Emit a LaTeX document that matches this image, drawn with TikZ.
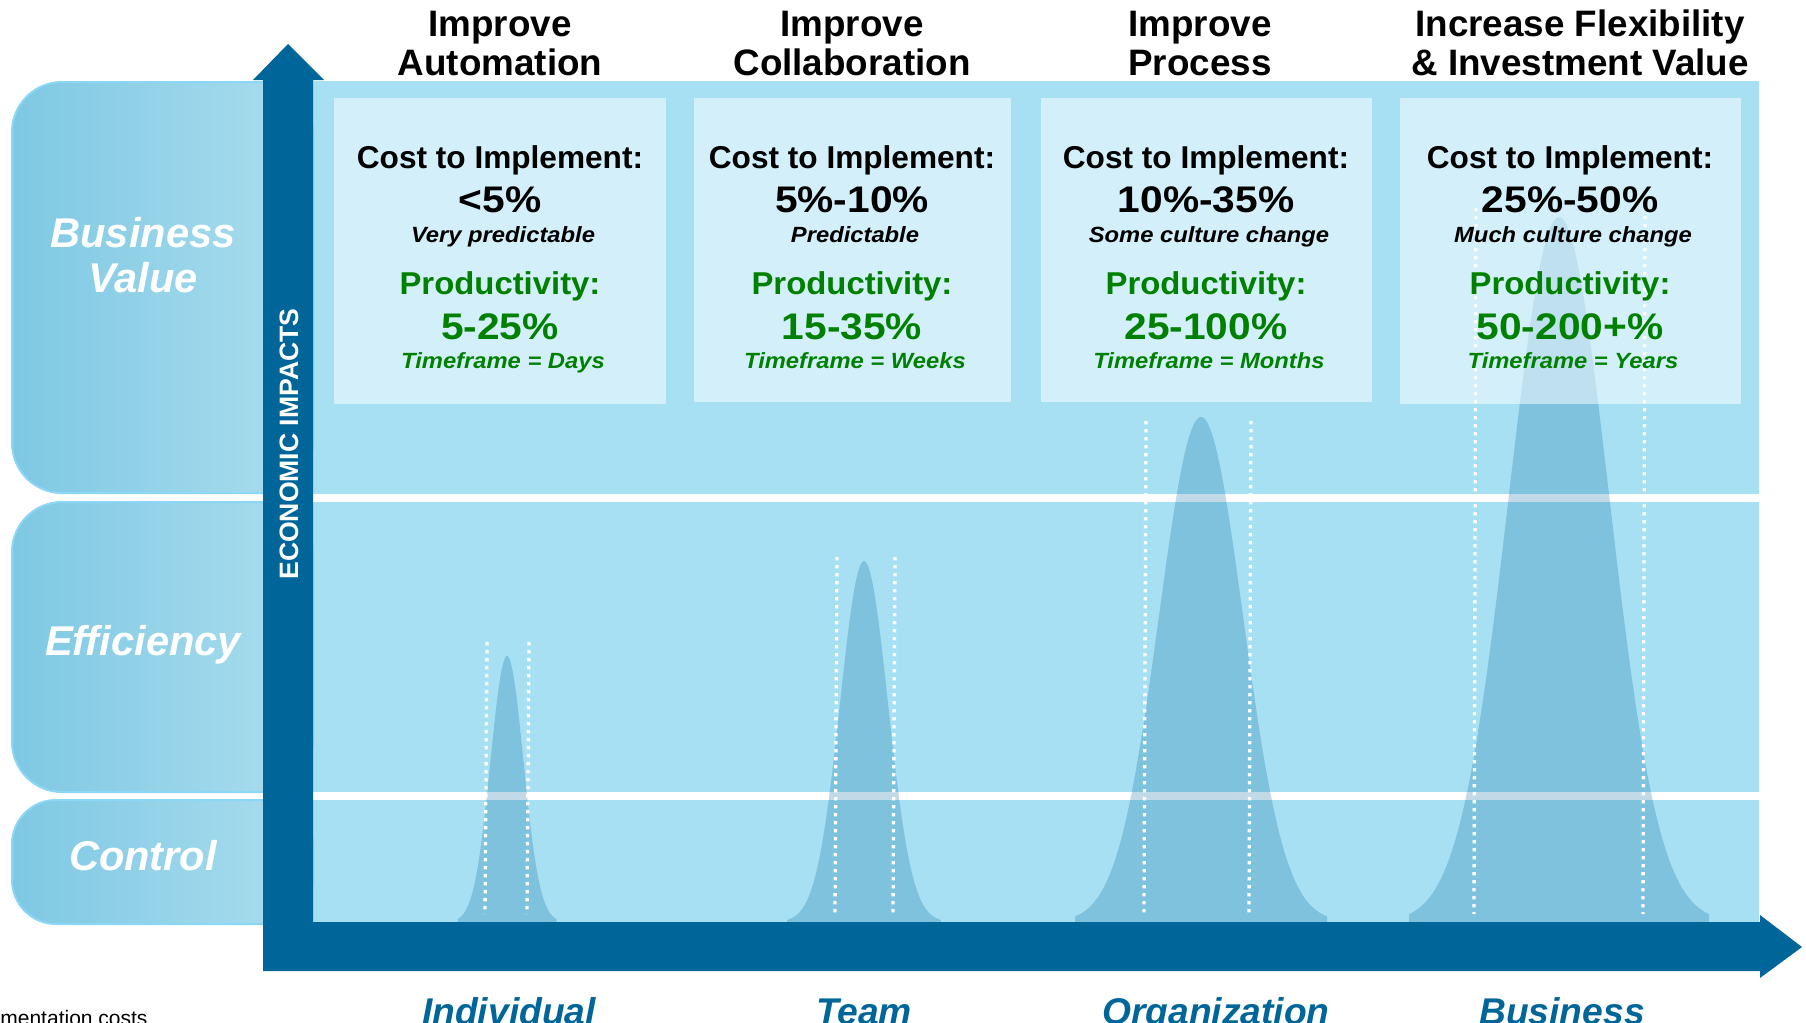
\documentclass[tikz,border=0pt]{standalone}
\usepackage{fontspec}
\setmainfont{Liberation Sans}
\definecolor{panel}{RGB}{168,224,243}
\definecolor{arrowblue}{RGB}{0,102,153}
\definecolor{dkgreen}{RGB}{0,128,0}
\definecolor{lblL}{RGB}{126,200,227}
\definecolor{lblR}{RGB}{172,222,238}
\definecolor{lblB}{RGB}{140,214,246}
\newcommand{\wx}[2]{\scalebox{#1}[1]{#2}}
\tikzset{
  hdr/.style={font=\fontsize{18.4pt}{20pt}\selectfont\bfseries, anchor=base, inner sep=0pt},
  costhd/.style={font=\fontsize{15.8pt}{17pt}\selectfont\bfseries, anchor=base, inner sep=0pt},
  costval/.style={font=\fontsize{18.5pt}{20pt}\selectfont\bfseries, anchor=base, inner sep=0pt},
  costsub/.style={font=\fontsize{11pt}{12pt}\selectfont\bfseries\itshape, anchor=base, inner sep=0pt},
  prodhd/.style={costhd, text=dkgreen},
  prodval/.style={costval, text=dkgreen},
  prodsub/.style={costsub, text=dkgreen},
  rowlbl/.style={font=\fontsize{20.8pt}{22pt}\selectfont\bfseries\itshape, text=white, anchor=base, inner sep=0pt},
  axlbl/.style={font=\fontsize{18.6pt}{20pt}\selectfont\bfseries\itshape, text=arrowblue, anchor=base, inner sep=0pt},
  rowpanel/.style={fill=panel},
  lblbox/.style={left color=lblL, right color=lblR, draw=lblB, line width=1pt},
  infobox/.style={fill=white, fill opacity=0.5},
  bell/.style={fill=arrowblue, fill opacity=0.24},
  dotline/.style={draw=white, line width=1.65pt, dash pattern=on 1.65pt off 2.35pt},
  bigarrow/.style={fill=arrowblue}
}
\begin{document}
\begin{tikzpicture}[x=0.5pt, y=-0.5pt]
\useasboundingbox (0,0) rectangle (1806,1023);
% panel rows
\fill[rowpanel] (313,81) rectangle (1759,494);
\fill[rowpanel] (313,502) rectangle (1759,792);
\fill[rowpanel] (313,800) rectangle (1759,922);
% bell curves
\foreach \cx/\sg/\hh/\dd in {507/16.5/266/3, 864/24/361/3.2, 1201/42/505/3, 1559/50/705/3}{
  \fill[bell] ({\cx-\dd*\sg},922) -- plot[variable=\t, domain=-\dd:\dd, samples=90, smooth] ({\cx+\sg*\t},{922-\hh*exp(-\t*\t/2)}) -- ({\cx+\dd*\sg},922) -- cycle;
}
% dotted lines
\foreach \xa/\xb/\yt in {487/529/642, 837/895/557, 1146/1251/421, 1476/1645/208}{
  \draw[dotline] (\xa,\yt) -- ({\xa-2},914);
  \draw[dotline] (\xb,\yt) -- ({\xb-2},914);
}
% info boxes
\fill[infobox] (334,98) rectangle (666,404);
\fill[infobox] (694,98) rectangle (1011,402);
\fill[infobox] (1041,98) rectangle (1372,402);
\fill[infobox] (1400,98) rectangle (1741,404);
% headers
\node[hdr] (h1a) at (500,36) {Improve};
\node[hdr] (h1b) at (500,75) {Automation};
\node[hdr] (h2a) at (852,36) {Improve};
\node[hdr] (h2b) at (852,75) {Collaboration};
\node[hdr] (h3a) at (1200,36) {Improve};
\node[hdr] (h3b) at (1200,75) {Process};
\node[hdr] (h4a) at (1580,36) {Increase Flexibility};
\node[hdr] (h4b) at (1580,75) {\& Investment Value};
% box texts
\foreach \n/\bx/\cv/\cs/\pv/\ps in {
  1/500/{<5\%}/{Very predictable}/{5-25\%}/{Timeframe = Days},
  2/852/{5\%-10\%}/{Predictable}/{15-35\%}/{Timeframe = Weeks},
  3/1206/{10\%-35\%}/{Some culture change}/{25-100\%}/{Timeframe = Months},
  4/1570/{25\%-50\%}/{Much culture change}/{50-200+\%}/{Timeframe = Years}}{
  \node[costhd] (ch\n) at (\bx,168) {Cost to Implement:};
  \node[costval] (cv\n) at (\bx,212) {\wx{1.1}{\cv}};
  \node[costsub] (cs\n) at ({\bx+3},242) {\wx{1.08}{\cs}};
  \node[prodhd] (ph\n) at (\bx,294) {\wx{1.04}{Productivity:}};
  \node[prodval] (pv\n) at (\bx,339) {\wx{1.1}{\pv}};
  \node[prodsub] (ps\n) at ({\bx+3},368) {\wx{1.08}{\ps}};
}
% left label boxes
\draw[lblbox, rounded corners=25pt] (12,82) rectangle (313,493);
\draw[lblbox, rounded corners=25pt] (12,502) rectangle (313,792);
\draw[lblbox, rounded corners=22pt] (12,800) rectangle (313,924);
\node[rowlbl] (bv1) at (143,247) {Business};
\node[rowlbl] (bv2) at (143,292) {Value};
\node[rowlbl] (eff) at (143,655) {Efficiency};
\node[rowlbl] (ctl) at (143,870) {Control};
% axes arrow
\fill[bigarrow] (288,44) -- (324,80) -- (313,80) -- (313,922) -- (1760,922) -- (1760,915) -- (1802,947) -- (1760,978) -- (1760,971) -- (263,971) -- (263,80) -- (253,80) -- cycle;
\node[font=\fontsize{13.3pt}{14pt}\selectfont\bfseries, text=white, rotate=90, inner sep=0pt] (econ) at (289,444) {ECONOMIC IMPACTS};
% bottom labels
\node[axlbl] (xl1) at (509,1024) {Individual};
\node[axlbl] (xl2) at (864,1024) {Team};
\node[axlbl] (xl3) at (1216,1024) {Organization};
\node[axlbl] (xl4) at (1562,1024) {Business};
\node[font=\fontsize{10.5pt}{12pt}\selectfont, anchor=base west, inner sep=0pt] (note) at (0,1025) {mentation costs};
\end{tikzpicture}
\end{document}
